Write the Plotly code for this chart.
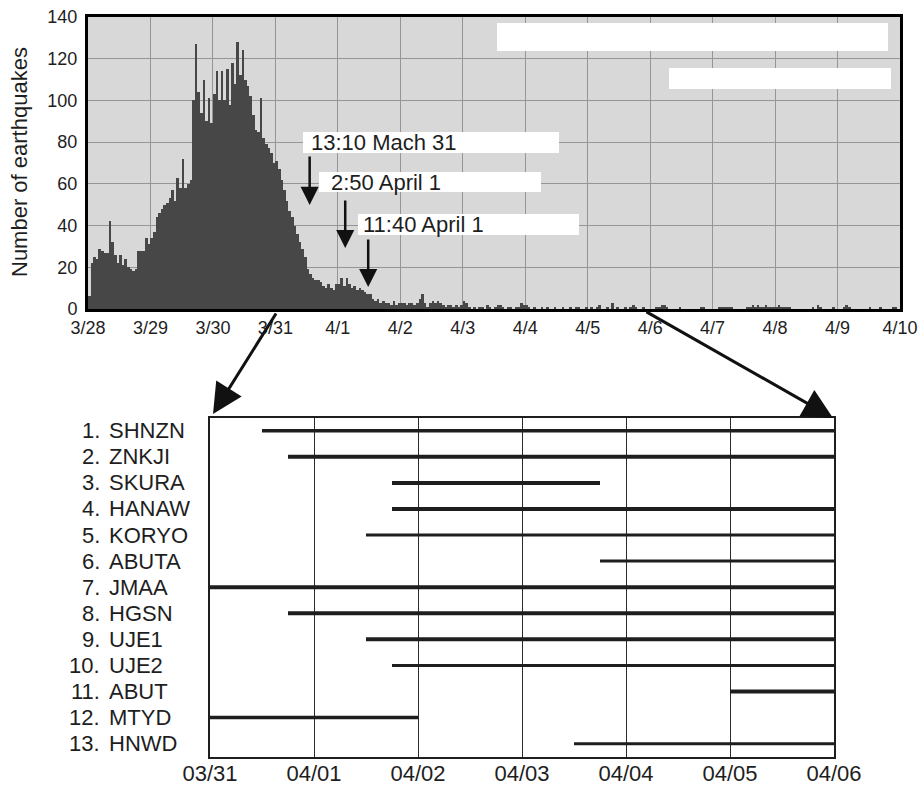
import plotly.graph_objects as go
import pandas as pd

W, H = 918, 786
FONT = "Liberation Sans, Arial, Helvetica, sans-serif"
INK = "#1e1e1e"

# ---------------- data: hourly earthquake counts (3/28 .. 4/9, 24 values per day) ----------------
counts_0328 = [6, 22, 25, 24, 29, 28, 27, 27, 42, 32, 26, 22, 26, 21, 24, 20, 19, 18, 19, 28, 28, 28, 34, 31]
counts_0329 = [34, 37, 44, 46, 48, 50, 51, 53, 57, 52, 63, 58, 72, 58, 60, 62, 100, 127, 104, 94, 110, 90, 101, 89]
counts_0330 = [103, 114, 100, 114, 100, 115, 98, 118, 108, 128, 112, 124, 110, 107, 102, 93, 86, 85, 101, 82, 79, 77, 75, 70]
counts_0331 = [71, 67, 62, 57, 52, 47, 44, 40, 36, 32, 29, 25, 19, 17, 15, 14, 14, 13, 11, 10, 12, 10, 9, 12]
counts_0401 = [12, 15, 11, 15, 12, 10, 11, 9, 10, 9, 8, 7, 7, 5, 4, 5, 3, 4, 3, 3, 2, 4, 2, 3]
counts_0402 = [3, 3, 2, 3, 3, 2, 3, 5, 7, 3, 1, 3, 4, 3, 4, 3, 2, 1, 2, 2, 1, 2, 1, 2]
counts_0403 = [4, 3, 1, 0, 1, 0, 1, 1, 0, 2, 1, 0, 1, 2, 2, 1, 0, 1, 1, 0, 1, 1, 3, 2]
counts_0404 = [2, 1, 0, 1, 0, 0, 1, 0, 1, 0, 0, 1, 0, 0, 1, 0, 0, 1, 0, 1, 1, 0, 0, 1]
counts_0405 = [0, 1, 0, 1, 2, 0, 0, 1, 0, 3, 0, 1, 0, 0, 1, 0, 1, 2, 1, 0, 0, 1, 0, 0]
counts_0406 = [0, 0, 1, 1, 2, 2, 1, 0, 0, 0, 0, 1, 0, 0, 0, 0, 0, 0, 0, 1, 1, 0, 0, 0]
counts_0407 = [0, 0, 1, 1, 1, 1, 1, 1, 0, 0, 0, 0, 0, 1, 1, 2, 1, 2, 1, 1, 2, 1, 1, 1]
counts_0408 = [1, 2, 1, 1, 1, 1, 0, 0, 0, 0, 0, 0, 0, 0, 1, 0, 2, 1, 0, 0, 0, 0, 1, 0]
counts_0409 = [0, 0, 1, 2, 1, 0, 0, 0, 0, 0, 0, 0, 1, 0, 0, 0, 1, 0, 0, 0, 0, 1, 1, 0]

hist_start = "2000-03-28 00:00"
top_range = ["2000-03-28", "2000-04-10"]
top_tick_days = pd.date_range("2000-03-28", "2000-04-10", freq="D")
top_tick_text = [f"{d.month}/{d.day}" for d in top_tick_days]

# eruption-time markers
event_times = ["2000-03-31 13:10", "2000-04-01 02:50", "2000-04-01 11:40"]
event_labels = ["13:10 Mach 31", "2:50 April 1", "11:40 April 1"]

# ---------------- data: station operating periods ----------------
stations = ["SHNZN", "ZNKJI", "SKURA", "HANAW", "KORYO", "ABUTA", "JMAA",
            "HGSN", "UJE1", "UJE2", "ABUT", "MTYD", "HNWD"]
station_start = ["2000-03-31 12:00", "2000-03-31 18:00", "2000-04-01 18:00", "2000-04-01 18:00",
                 "2000-04-01 12:00", "2000-04-03 18:00", "2000-03-31 00:00", "2000-03-31 18:00",
                 "2000-04-01 12:00", "2000-04-01 18:00", "2000-04-05 00:00", "2000-03-31 00:00",
                 "2000-04-03 12:00"]
station_end = ["2000-04-06 00:00", "2000-04-06 00:00", "2000-04-03 18:00", "2000-04-06 00:00",
               "2000-04-06 00:00", "2000-04-06 00:00", "2000-04-06 00:00", "2000-04-06 00:00",
               "2000-04-06 00:00", "2000-04-06 00:00", "2000-04-06 00:00", "2000-04-02 00:00",
               "2000-04-06 00:00"]
bottom_range = ["2000-03-31", "2000-04-06"]
bottom_tick_days = pd.date_range("2000-03-31", "2000-04-06", freq="D")
bottom_tick_text = [d.strftime("%m/%d") for d in bottom_tick_days]

# ---------------- styling helpers ----------------
station_widths = [3.5, 4, 4, 4, 3, 3, 4, 4, 4, 3, 4, 3.5, 3]

def px(xp):
    return xp / W

def py(yp):
    return 1 - yp / H

hourly_counts = (counts_0328 + counts_0329 + counts_0330 + counts_0331 + counts_0401 +
                 counts_0402 + counts_0403 + counts_0404 + counts_0405 + counts_0406 +
                 counts_0407 + counts_0408 + counts_0409)
hours = pd.date_range(hist_start, periods=len(hourly_counts), freq="h")

fig = go.Figure()

fig.add_trace(go.Bar(
    x=hours, y=hourly_counts, offset=0, width=3600 * 1000,
    marker=dict(color="#474747", line=dict(width=0)),
    xaxis="x", yaxis="y", showlegend=False, hoverinfo="skip",
))

for i, name in enumerate(stations):
    fig.add_trace(go.Scatter(
        x=[station_start[i], station_end[i]], y=[i + 1, i + 1],
        mode="lines", line=dict(color=INK, width=station_widths[i]),
        xaxis="x2", yaxis="y2", showlegend=False, hoverinfo="skip",
    ))

shapes = [
    # grey plot background of the histogram
    dict(type="rect", xref="x domain", yref="y domain", x0=0, x1=1, y0=0, y1=1,
         fillcolor="#d8d8d8", line=dict(width=0), layer="below"),
    # blank white label boxes
    dict(type="rect", xref="paper", yref="paper", x0=px(497), x1=px(888), y0=py(51), y1=py(23),
         fillcolor="white", line=dict(width=0), layer="above"),
    dict(type="rect", xref="paper", yref="paper", x0=px(669), x1=px(891), y0=py(89), y1=py(68),
         fillcolor="white", line=dict(width=0), layer="above"),
    dict(type="rect", xref="paper", yref="paper", x0=px(303), x1=px(559), y0=py(153), y1=py(132),
         fillcolor="white", line=dict(width=0), layer="above"),
    dict(type="rect", xref="paper", yref="paper", x0=px(319), x1=px(541), y0=py(192), y1=py(172),
         fillcolor="white", line=dict(width=0), layer="above"),
    dict(type="rect", xref="paper", yref="paper", x0=px(358), x1=px(579), y0=py(235), y1=py(214),
         fillcolor="white", line=dict(width=0), layer="above"),
]

annotations = []
label_x = [309, 329, 361]
label_y = [142.5, 182, 224.5]
arrow_tail = [73.8, 52.7, 34.0]
arrow_tip = [49.9, 29.2, 10.5]
for i, t in enumerate(event_times):
    annotations.append(dict(
        x=px(label_x[i]), y=py(label_y[i]), xref="paper", yref="paper",
        xanchor="left", yanchor="middle", text=event_labels[i], showarrow=False,
        font=dict(family=FONT, size=22, color=INK),
    ))
    annotations.append(dict(
        x=t, y=arrow_tip[i], xref="x", yref="y", ax=t, ay=arrow_tail[i], axref="x", ayref="y",
        text="", showarrow=True, arrowhead=2, arrowsize=1.45, arrowwidth=2.5, arrowcolor="#111",
    ))

annotations.append(dict(
    x=px(19), y=py(162), xref="paper", yref="paper", text="Number of earthquakes",
    textangle=-90, showarrow=False, xanchor="center", yanchor="middle",
    font=dict(family=FONT, size=22, color=INK),
))

for i, name in enumerate(stations):
    annotations.append(dict(
        x=px(102), y=i + 1, xref="paper", yref="y2", text=f"{i + 1}.", showarrow=False,
        xanchor="right", yanchor="middle", font=dict(family=FONT, size=22, color=INK),
    ))
    annotations.append(dict(
        x=px(107), y=i + 1, xref="paper", yref="y2", text=name, showarrow=False,
        xanchor="left", yanchor="middle", font=dict(family=FONT, size=22, color=INK),
    ))

# connector arrows between the two panels
annotations.append(dict(
    x=px(213), y=py(414), xref="paper", yref="paper", ax=277 - 213, ay=312 - 414,
    text="", showarrow=True, arrowhead=2, arrowsize=2.0, arrowwidth=3, arrowcolor="#111",
))
annotations.append(dict(
    x=px(833), y=py(418), xref="paper", yref="paper", ax=645 - 833, ay=311 - 418,
    text="", showarrow=True, arrowhead=2, arrowsize=2.0, arrowwidth=3, arrowcolor="#111",
))

fig.update_layout(
    width=W, height=H, margin=dict(l=0, r=0, t=0, b=0, autoexpand=False),
    paper_bgcolor="white", plot_bgcolor="white",
    font=dict(family=FONT, color=INK),
    bargap=0, showlegend=False,
    shapes=shapes, annotations=annotations,
    xaxis=dict(
        domain=[px(88), px(900)], anchor="y", type="date", range=top_range, automargin=False,
        tickvals=top_tick_days, ticktext=top_tick_text, tickfont=dict(size=18, color=INK),
        showgrid=True, gridcolor="#959595", gridwidth=1.3,
        showline=True, linecolor="black", linewidth=3, mirror=True, ticks="",
        zeroline=False, fixedrange=True,
    ),
    yaxis=dict(
        domain=[py(309), py(17)], anchor="x", range=[0, 140], dtick=20, automargin=False,
        tickfont=dict(size=18, color=INK), ticklabelstandoff=4,
        showgrid=True, gridcolor="#959595", gridwidth=1.3,
        showline=True, linecolor="black", linewidth=3, mirror=True, ticks="",
        zeroline=False, fixedrange=True,
    ),
    xaxis2=dict(
        domain=[px(210), px(834)], anchor="y2", type="date", range=bottom_range, automargin=False,
        tickvals=bottom_tick_days, ticktext=bottom_tick_text, tickfont=dict(size=22, color=INK),
        ticklabelstandoff=-4,
        showgrid=True, gridcolor="#2a2a2a", gridwidth=1.4,
        showline=True, linecolor=INK, linewidth=2, mirror=True, ticks="",
        zeroline=False, fixedrange=True,
    ),
    yaxis2=dict(
        domain=[py(756.7), py(417.7)], anchor="x2", range=[13.5, 0.5], automargin=False,
        showticklabels=False, showgrid=False, ticks="",
        showline=True, linecolor=INK, linewidth=2, mirror=True,
        zeroline=False, fixedrange=True,
    ),
)

fig.write_html("out.html")
